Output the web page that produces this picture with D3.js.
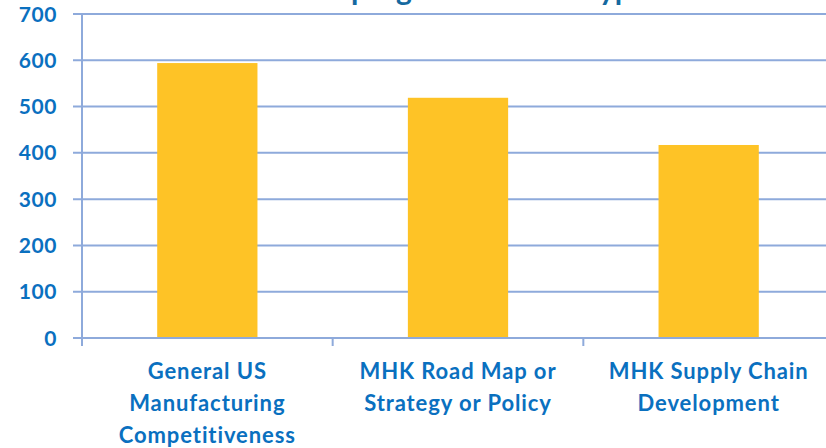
<!DOCTYPE html>
<html>
<head>
<meta charset="utf-8">
<script src="https://cdn.jsdelivr.net/npm/d3@7"></script>
<style>
  body { margin: 0; background: #fff; }
  svg { display: block; font-family: Lato, "Open Sans", sans-serif; }
</style>
</head>
<body>
<svg width="826" height="448"></svg>
<script>
// values
const categories = [
  ["General US", "Manufacturing", "Competitiveness"],
  ["MHK Road Map or", "Strategy or Policy"],
  ["MHK Supply Chain", "Development"]
];
const values = [594, 519, 417];
const yTicks = [0, 100, 200, 300, 400, 500, 600, 700];
const title = "Number of programs of each type";

const svg = d3.select("svg");
const gridColor = "#8eaadb";
const textColor = "#0a70bf";

const x = d3.scaleBand()
  .domain(d3.range(values.length))
  .range([82, 834])
  .paddingInner(0.6)
  .paddingOuter(0.3);

const y = d3.scaleLinear()
  .domain([0, 700])
  .range([338, 14]);

// title, mostly cut off by the top edge (only descenders show)
const t = svg.append("text")
  .attr("x", 216)
  .attr("y", -0.5)
  .attr("fill", "#1569a0")
  .attr("font-size", 30)
  .attr("font-weight", 700)
  .text(title);
// line up the "p" of "programs" with the reference
const node = t.node();
const off = node.getSubStringLength(0, title.indexOf("programs"));
t.attr("x", 351 - off);

// gridlines
svg.append("g")
  .selectAll("line")
  .data(yTicks)
  .join("line")
  .attr("x1", 73)
  .attr("x2", 826)
  .attr("y1", d => y(d))
  .attr("y2", d => y(d))
  .attr("stroke", gridColor)
  .attr("stroke-width", 2);

// y axis line
svg.append("line")
  .attr("x1", 82).attr("x2", 82)
  .attr("y1", y(700)).attr("y2", 346)
  .attr("stroke", gridColor)
  .attr("stroke-width", 2);

// y tick labels
svg.append("g")
  .selectAll("text")
  .data(yTicks)
  .join("text")
  .attr("x", 57)
  .attr("y", d => y(d))
  .attr("dy", "0.36em")
  .attr("text-anchor", "end")
  .attr("fill", textColor)
  .attr("font-size", 21)
  .attr("letter-spacing", 0.6)
  .attr("font-weight", 700)
  .text(d => d);

// x category ticks at band boundaries
const step = x.step();
svg.append("g")
  .selectAll("line")
  .data(d3.range(values.length))
  .join("line")
  .attr("x1", i => 82 + i * step)
  .attr("x2", i => 82 + i * step)
  .attr("y1", y(0))
  .attr("y2", 346)
  .attr("stroke", gridColor)
  .attr("stroke-width", 2);

// bars
svg.append("g")
  .selectAll("rect")
  .data(values)
  .join("rect")
  .attr("x", (d, i) => x(i))
  .attr("width", x.bandwidth())
  .attr("y", d => y(d))
  .attr("height", d => y(0) - y(d) - 1)
  .attr("fill", "#fec326");

// category labels
const lab = svg.append("g")
  .selectAll("text")
  .data(categories)
  .join("text")
  .attr("x", (d, i) => x(i) + x.bandwidth() / 2)
  .attr("y", 379)
  .attr("text-anchor", "middle")
  .attr("fill", textColor)
  .attr("font-size", 22)
  .attr("letter-spacing", 0.9)
  .attr("font-weight", 700);

lab.selectAll("tspan")
  .data(d => d)
  .join("tspan")
  .attr("x", function () { return this.parentNode.getAttribute("x"); })
  .attr("dy", (d, i) => i === 0 ? 0 : 32)
  .text(d => d);
</script>
</body>
</html>
